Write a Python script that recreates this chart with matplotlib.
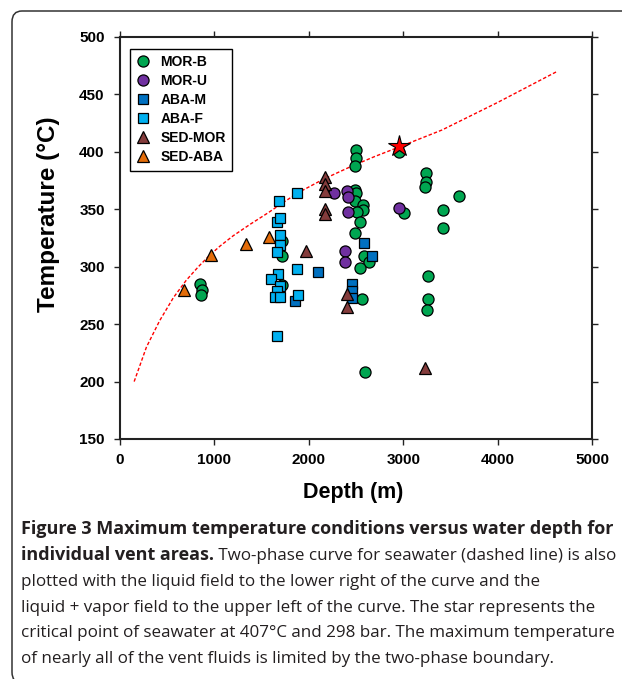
"""Max vent temperature vs water depth, with the seawater two-phase curve."""

import matplotlib

matplotlib.use("Agg")
import matplotlib.pyplot as plt
from matplotlib.patches import FancyBboxPatch

W, H = 622, 679

# --- data: (depth m, temperature C) ---
mor_b_depth = [850, 870, 860, 1720, 1720, 1720,
               2500, 2500, 2490, 2490, 2500, 2490, 2570, 2570, 2510, 2540, 2490,
               2590, 2640, 2540, 2560, 2600,
               2960, 3010, 3240, 3240, 3230, 3590, 3420, 3420, 3260, 3260, 3250]
mor_b_temp = [285, 280, 275, 322, 309, 284,
              402, 395, 388, 367, 364, 357, 354, 349, 348, 339, 329,
              309, 304, 299, 272, 208,
              400, 347, 382, 374, 369, 362, 349, 334, 292, 272, 262]

mor_u_depth = [2270, 2400, 2410, 2410, 2385, 2385, 2960]
mor_u_temp = [364, 366, 361, 348, 314, 304, 351]

aba_m_depth = [2100, 1855, 2455, 2455, 2455, 2590, 2670]
aba_m_temp = [295, 270, 285, 279, 273, 321, 309]

aba_f_depth = [1880, 1680, 1665, 1690, 1690, 1690, 1660, 1880, 1670, 1600,
               1690, 1665, 1640, 1700, 1890, 1665]
aba_f_temp = [364, 357, 339, 342, 328, 319, 313, 298, 294, 289,
              283, 279, 274, 274, 275, 240]

sed_mor_depth = [2170, 2170, 2170, 2170, 2170, 1970, 2400, 2400, 3230]
sed_mor_temp = [378, 372, 366, 350, 346, 314, 276, 265, 212]

sed_aba_depth = [680, 960, 1330, 1580]
sed_aba_temp = [280, 310, 320, 326]

# two-phase boundary for seawater (dashed) and its critical point
curve_depth = [150, 280, 420, 565, 700, 830, 950, 1060, 1200, 1380, 1570,
               1730, 1900, 2150, 2440, 2700, 2950, 3410, 4000, 4630]
curve_temp = [200, 230, 253, 273, 288, 300, 310, 318, 327, 337, 347,
              356, 365, 376, 387, 396, 404, 419, 443, 470]
crit_depth, crit_temp = 2960, 405

series = [
    ("MOR-B", mor_b_depth, mor_b_temp, "o", "#00a651"),
    ("MOR-U", mor_u_depth, mor_u_temp, "o", "#7030a0"),
    ("ABA-M", aba_m_depth, aba_m_temp, "s", "#0070c0"),
    ("ABA-F", aba_f_depth, aba_f_temp, "s", "#00b0f0"),
    ("SED-MOR", sed_mor_depth, sed_mor_temp, "^", "#843c3c"),
    ("SED-ABA", sed_aba_depth, sed_aba_temp, "^", "#e36c09"),
]
marker_size = {"o": 8, "s": 7.2, "^": 8}

plt.rcParams["font.family"] = ["Liberation Sans", "DejaVu Sans"]

fig = plt.figure(figsize=(W / 100, H / 100), dpi=100)
ax = fig.add_axes([120 / W, 1 - 439 / H, 472 / W, 402 / H])

ax.plot(curve_depth, curve_temp, color="red", ls=(0, (2.5, 1.5)), lw=1.0, zorder=1)
for label, xs, ys, mk, col in series:
    ax.plot(xs, ys, ls="none", marker=mk, ms=marker_size[mk], mfc=col,
            mec="black", mew=0.9, label=label, zorder=2)
ax.plot([crit_depth], [crit_temp], ls="none", marker="*", ms=16, mfc="red",
        mec="black", mew=0.8, zorder=4)

ax.set_xlim(0, 5000)
ax.set_ylim(150, 500)
ax.set_xticks(range(0, 5001, 1000))
ax.set_yticks(range(150, 501, 50))
ax.tick_params(direction="out", length=4, width=1, top=True, right=True,
               labelsize=11, color="#222222")
ax.tick_params(axis="x", pad=6)
ax.tick_params(axis="y", pad=7)
for lab in ax.get_xticklabels() + ax.get_yticklabels():
    lab.set_fontweight("bold")
for sp in ax.spines.values():
    sp.set_linewidth(1.5)
    sp.set_color("#222222")

ax.set_xlabel("Depth (m)", fontsize=15.5, fontweight="bold")
ax.set_ylabel("Temperature (°C)", fontsize=17.5, fontweight="bold")
ax.xaxis.set_label_coords(0.494, -0.132)
ax.xaxis.label.set_va("center")
ax.yaxis.set_label_coords(-0.1525, 0.558)
ax.yaxis.label.set_va("center")

leg = ax.legend(loc="upper left", bbox_to_anchor=(0.021, 0.970), borderaxespad=0,
                frameon=True, fancybox=False, edgecolor="black", framealpha=1,
                prop={"weight": "bold", "size": 10}, handlelength=1.0,
                handletextpad=0.75, labelspacing=0.36, borderpad=0.45)
leg.get_frame().set_linewidth(1.0)

# caption box (rounded, runs off the right and bottom edges)
box = FancyBboxPatch((12 / W, 0.0 - 4 / H), 700 / W, (H - 11 + 4) / H,
                     boxstyle="round,pad=0,rounding_size=0.016",
                     transform=fig.transFigure, fill=False, ec="#333333", lw=1.1)
fig.patches.append(box)

cap_font = ["Open Sans", "DejaVu Sans"]
cap_color = "#231f20"
lines = [
    [("Figure 3 Maximum temperature conditions versus water depth for", "bold")],
    [("individual vent areas.", "bold"),
     (" Two-phase curve for seawater (dashed line) is also", "normal")],
    [("plotted with the liquid field to the lower right of the curve and the", "normal")],
    [("liquid + vapor field to the upper left of the curve. The star represents the", "normal")],
    [("critical point of seawater at 407°C and 298 bar. The maximum temperature", "normal")],
    [("of nearly all of the vent fluids is limited by the two-phase boundary.", "normal")],
]
baselines = [534, 560, 586, 612, 637, 663]

renderer = fig.canvas.get_renderer()


def fit_size(text, weight, width_px):
    probe = fig.text(0, 0, text, family=cap_font, size=10, weight=weight)
    size = 10 * width_px / probe.get_window_extent(renderer).width
    probe.remove()
    return size


# both full-width lines run 21 -> 617 px in the original
cap_size = {"normal": fit_size(lines[4][0][0], "normal", 596),
            "bold": fit_size(lines[0][0][0], "bold", 596)}

for runs, yb in zip(lines, baselines):
    x = 21
    for text, weight in runs:
        t = fig.text(x / W, 1 - yb / H, text, family=cap_font, size=cap_size[weight],
                     weight=weight, color=cap_color, va="baseline", ha="left")
        x += t.get_window_extent(renderer).width

fig.savefig("out.png", dpi=100)
